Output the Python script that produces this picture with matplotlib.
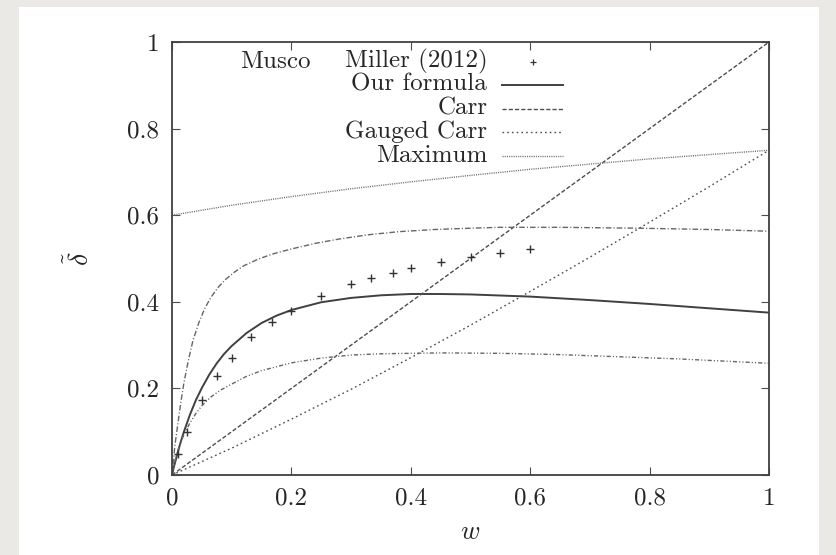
import matplotlib
matplotlib.use("Agg")
import matplotlib.pyplot as plt
from matplotlib.patches import Rectangle

plt.rcParams['font.family'] = ['cmr10', 'DejaVu Serif']
plt.rcParams['mathtext.fontset'] = 'cm'

# Musco & Miller (2012) points
mm_w = [0.01, 0.025, 0.05, 0.075, 0.1, 0.133, 0.167, 0.2, 0.25, 0.3, 0.333,
        0.37, 0.4, 0.45, 0.5, 0.55, 0.6]
mm_d = [0.048, 0.099, 0.173, 0.229, 0.271, 0.319, 0.354, 0.379, 0.413, 0.440,
        0.456, 0.467, 0.477, 0.491, 0.504, 0.513, 0.523]

# our formula
our_w = [0, 0.0025, 0.005, 0.01, 0.015, 0.02, 0.03, 0.04, 0.05, 0.0625, 0.075,
         0.0875, 0.1, 0.125, 0.15, 0.175, 0.2, 0.25, 0.3, 0.35, 0.4, 0.45, 0.5,
         0.6, 0.7, 0.8, 0.9, 1.0]
our_d = [0, 0.015, 0.028, 0.054, 0.078, 0.100, 0.139, 0.173, 0.201, 0.232,
         0.258, 0.280, 0.298, 0.328, 0.351, 0.368, 0.381, 0.399, 0.409, 0.415,
         0.418, 0.418, 0.417, 0.412, 0.404, 0.395, 0.385, 0.375]

# Carr
carr_w = [0, 1]
carr_d = [0, 1]

# gauged Carr
gc_w = [0, 0.1, 0.2, 0.3, 0.4, 0.5, 0.6, 0.7, 0.8, 0.9, 1.0]
gc_d = [0, 0.062, 0.129, 0.198, 0.271, 0.346, 0.424, 0.503, 0.584, 0.666, 0.75]

# maximum
max_w = [0, 0.1, 0.2, 0.3, 0.4, 0.5, 0.6, 0.7, 0.8, 0.9, 1.0]
max_d = [0.6, 0.623, 0.643, 0.661, 0.677, 0.692, 0.706, 0.718, 0.730, 0.740, 0.75]

# unlabelled dash-dot curves
up_w = [0, 0.005, 0.01, 0.015, 0.02, 0.027, 0.035, 0.045, 0.055, 0.065, 0.077,
        0.09, 0.105, 0.12, 0.145, 0.17, 0.2, 0.24, 0.28, 0.33, 0.38, 0.44, 0.5,
        0.55, 0.65, 0.78, 0.9, 1.0]
up_d = [0, 0.07, 0.12, 0.17, 0.213, 0.262, 0.31, 0.352, 0.385, 0.41, 0.433,
        0.452, 0.469, 0.483, 0.499, 0.511, 0.522, 0.535, 0.545, 0.555, 0.562,
        0.567, 0.570, 0.572, 0.572, 0.570, 0.567, 0.563]

lo_w = [0, 0.005, 0.01, 0.02, 0.03, 0.04, 0.05, 0.065, 0.08, 0.1, 0.125, 0.15,
        0.2, 0.25, 0.3, 0.35, 0.45, 0.55, 0.65, 0.75, 0.85, 1.0]
lo_d = [0, 0.033, 0.058, 0.094, 0.12, 0.142, 0.16, 0.18, 0.195, 0.21, 0.228,
        0.241, 0.259, 0.27, 0.277, 0.280, 0.282, 0.281, 0.278, 0.273, 0.268, 0.258]

ticks = [0, 0.2, 0.4, 0.6, 0.8, 1.0]
tick_labels = ['0', '0.2', '0.4', '0.6', '0.8', '1']

fig = plt.figure(figsize=(8.36, 5.55), dpi=100)
fig.patch.set_facecolor('#ebe9e6')
fig.add_artist(Rectangle((19 / 836, 0), 800 / 836, 1 - 7 / 555,
                         transform=fig.transFigure, facecolor='white',
                         edgecolor='none', zorder=-1))

ax = fig.add_axes([172 / 836, 1 - 475 / 555, 597 / 836, 433 / 555])

lc = '0.3'
fs = 18
ax.plot(our_w, our_d, color='0.25', lw=1.4)
ax.plot(carr_w, carr_d, color=lc, lw=1.0, dashes=(3, 1.5))
ax.plot(gc_w, gc_d, color=lc, lw=1.0, dashes=(1.2, 2.2))
ax.plot(max_w, max_d, color='0.45', lw=1.0, dashes=(0.8, 0.8))
ax.plot(up_w, up_d, color='0.4', lw=1.0, dashes=(4, 1.5, 0.8, 1.5))
ax.plot(lo_w, lo_d, color='0.4', lw=1.0, dashes=(3, 1.5, 0.8, 1.5, 0.8, 1.5))
ax.plot(mm_w, mm_d, '+', color='0.2', ms=5.5, mew=1.0, ls='none')

ax.set_xlim(0, 1)
ax.set_ylim(0, 1)
ax.set_xticks(ticks)
ax.set_xticklabels(tick_labels)
ax.set_yticks(ticks)
ax.set_yticklabels(tick_labels)
ax.tick_params(direction='in', top=True, right=True, length=6, width=0.8,
               color='0.3', labelsize=fs, pad=9, labelcolor='0.15')
for s in ax.spines.values():
    s.set_linewidth(1.3)
    s.set_color('0.25')

ax.set_xlabel(r'$w$', fontsize=19, color='0.15')
ax.xaxis.set_label_coords(0.5, -0.132)
ax.xaxis.label.set_va('center')
ax.set_ylabel(r'$\tilde{\delta}$', fontsize=20, color='0.15')
ax.yaxis.set_label_coords(-0.154, 0.5)
ax.yaxis.label.set_va('center')

# legend, gnuplot style: right-aligned text then sample
leg_x_text = 0.528
leg_x0, leg_x1 = 0.553, 0.655
rows = [0.954, 0.901, 0.846, 0.792, 0.737]
tk = dict(transform=ax.transAxes, fontsize=fs, color='0.15', va='center')
ax.text(0.114, rows[0], 'Musco', ha='left', **tk)
ax.text(leg_x_text, rows[0], 'Miller (2012)', ha='right', **tk)
ax.plot([(leg_x0 + leg_x1) / 2], [rows[0]], '+', color='0.2', ms=4.5, mew=0.9,
        transform=ax.transAxes)
ax.text(leg_x_text, rows[1], 'Our formula', ha='right', **tk)
ax.plot([leg_x0, leg_x1], [rows[1]] * 2, color='0.25', lw=1.4, transform=ax.transAxes)
ax.text(leg_x_text, rows[2], 'Carr', ha='right', **tk)
ax.plot([leg_x0, leg_x1], [rows[2]] * 2, color=lc, lw=1.0, dashes=(3, 1.5),
        transform=ax.transAxes)
ax.text(leg_x_text, rows[3], 'Gauged Carr', ha='right', **tk)
ax.plot([leg_x0, leg_x1], [rows[3]] * 2, color=lc, lw=1.0, dashes=(1.2, 2.2),
        transform=ax.transAxes)
ax.text(leg_x_text, rows[4], 'Maximum', ha='right', **tk)
ax.plot([leg_x0, leg_x1], [rows[4]] * 2, color='0.45', lw=1.0, dashes=(0.8, 0.8),
        transform=ax.transAxes)

fig.savefig('out.png', dpi=100, facecolor=fig.get_facecolor())
